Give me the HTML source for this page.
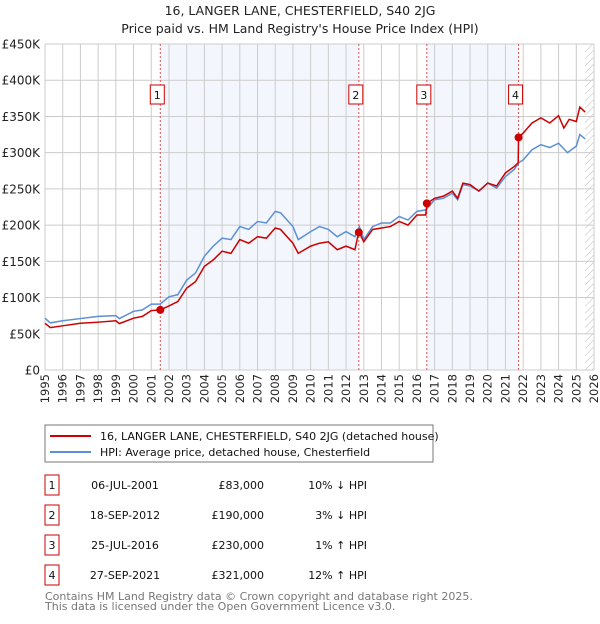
<!DOCTYPE html>
<html><head><meta charset="utf-8"><style>
body{margin:0;background:#fff;font-family:"DejaVu Sans","Liberation Sans",sans-serif;}
svg text{font-family:"DejaVu Sans","Liberation Sans",sans-serif;}
</style></head><body>
<svg id="c" width="600" height="620" xmlns="http://www.w3.org/2000/svg">
<defs><pattern id="hatch" width="5" height="5" patternUnits="userSpaceOnUse" patternTransform="rotate(45)"><line x1="0" y1="0" x2="0" y2="5" stroke="#bbb" stroke-width="1"/></pattern></defs>
<text x="300" y="15" text-anchor="middle" font-size="12.5" fill="#222">16, LANGER LANE, CHESTERFIELD, S40 2JG</text>
<text x="300" y="33" text-anchor="middle" font-size="12.5" fill="#222">Price paid vs. HM Land Registry's House Price Index (HPI)</text>
<g id="plot"></g>
<rect x="45" y="425" width="388" height="37" fill="#fff" stroke="#777"/>
<line x1="50" y1="436" x2="91" y2="436" stroke="#cc0000" stroke-width="2"/>
<text x="100" y="440" font-size="11" fill="#111">16, LANGER LANE, CHESTERFIELD, S40 2JG (detached house)</text>
<line x1="50" y1="452" x2="91" y2="452" stroke="#5b8fd6" stroke-width="2"/>
<text x="100" y="456" font-size="11" fill="#111">HPI: Average price, detached house, Chesterfield</text>
<g id="table" font-size="11" fill="#111"></g>
<text x="45" y="600" font-size="11" fill="#777">Contains HM Land Registry data © Crown copyright and database right 2025.</text>
<text x="45" y="610" font-size="11" fill="#777">This data is licensed under the Open Government Licence v3.0.</text>
</svg>
<script>
const hpiYears=[1995,1995.3,1996,1997,1998,1999,1999.2,2000,2000.5,2001,2001.5,2002,2002.5,2003,2003.5,2004,2004.5,2005,2005.5,2006,2006.5,2007,2007.5,2008,2008.3,2009,2009.3,2010,2010.5,2011,2011.5,2012,2012.5,2012.75,2013,2013.5,2014,2014.5,2015,2015.5,2016,2016.5,2017,2017.5,2018,2018.3,2018.6,2019,2019.5,2020,2020.5,2021,2021.5,2021.75,2022,2022.5,2023,2023.5,2024,2024.5,2025,2025.2,2025.5];
const hpiValues=[71.5,65,68,71,74,75,71,81,83,91,91,101,104,124,134,157,171,182,180,198,194,205,203,219,217,198,180,191,198,194,184,191,184,198,180,198,203,203,212,207,219,221,235,237,244,235,256,254,247,258,251,267,277,286,290,304,311,307,313,300,309,325,319];
const propYears=[1995,1995.3,1996,1997,1998,1999,1999.2,2000,2000.5,2001,2001.51,2002,2002.5,2003,2003.5,2004,2004.5,2005,2005.5,2006,2006.5,2007,2007.5,2008,2008.3,2009,2009.3,2010,2010.5,2011,2011.5,2012,2012.5,2012.72,2013,2013.5,2014,2014.5,2015,2015.5,2016,2016.5,2016.56,2017,2017.5,2018,2018.3,2018.6,2019,2019.5,2020,2020.5,2021,2021.5,2021.72,2021.74,2022,2022.5,2023,2023.5,2024,2024.3,2024.6,2025,2025.2,2025.5];
const propValues=[64.5,58.5,61,64.5,66,68,64,71.5,74,82,83,88.5,94.5,113,122,143,152,164,161,180,175,184,182,196,194,175,161,171,175,177,166,171,166,191,177,194,196,198,205,200,214,214,230,237,240,247,237,258,256,247,258,254,272,281,286,321,327,341,348,341,351,334,346,343,363,356];
const saleYears=[2001.51,2012.72,2016.56,2021.74];
const saleValues=[83,190,230,321];
const saleLabels=["1","2","3","4"];
const saleDates=["06-JUL-2001","18-SEP-2012","25-JUL-2016","27-SEP-2021"];
const salePrices=["£83,000","£190,000","£230,000","£321,000"];
const saleDiffs=["10% ↓ HPI","3% ↓ HPI","1% ↑ HPI","12% ↑ HPI"];
const yTicks=[0,50,100,150,200,250,300,350,400,450];
const yTickLabels=["£0","£50K","£100K","£150K","£200K","£250K","£300K","£350K","£400K","£450K"];
const X0=45,X1=594,Y0=370,Y1=44;
const xs=y=>X0+(y-1995)/31*(X1-X0);
const ys=v=>Y0-v/450*(Y0-Y1);
const NS="http://www.w3.org/2000/svg";
const g=document.getElementById('plot');
function mk(t,a,p){const e=document.createElementNS(NS,t);for(const k in a)e.setAttribute(k,a[k]);(p||g).appendChild(e);return e;}
let e;
e=mk('rect',{x:xs(saleYears[0]),y:Y1,width:xs(saleYears[1])-xs(saleYears[0]),height:Y0-Y1,fill:'#eef3fc',opacity:0.7});


e=mk('rect',{x:xs(saleYears[2]),y:Y1,width:xs(saleYears[3])-xs(saleYears[2]),height:Y0-Y1,fill:'#eef3fc',opacity:0.7});


e=mk('rect',{x:xs(2025.5),y:Y1,width:X1-xs(2025.5),height:Y0-Y1,fill:'url(#hatch)'});


for(let yr=1995;yr<=2026;yr++){
 e=mk('line',{x1:xs(yr),x2:xs(yr),y1:Y1,y2:Y0,stroke:'#ccc','stroke-width':1});
 
 
 const t=mk('text',{x:0,y:0,'font-size':11.5,fill:'#222','text-anchor':'end',transform:`translate(${xs(yr)+4},${Y0+4}) rotate(-90)`});
 t.textContent=yr;
 
 
}
yTicks.forEach((v,i)=>{
 e=mk('line',{x1:X0,x2:X1,y1:ys(v),y2:ys(v),stroke:'#ccc','stroke-width':1});
 
 
 const t=mk('text',{x:40,y:ys(v)+4.5,'font-size':12,fill:'#222','text-anchor':'end'});
 t.textContent=yTickLabels[i];
 
 
});
saleYears.forEach((y,i)=>{
 e=mk('line',{x1:xs(y),x2:xs(y),y1:Y1,y2:Y0,stroke:'#e05050','stroke-width':1,'stroke-dasharray':'2,2'});
 
 
 e=mk('rect',{x:xs(y)-10,y:85,width:14,height:19,fill:'#fff',stroke:'#cc0000'});
 
 
 const t=mk('text',{x:xs(y)-3,y:99,'font-size':11,fill:'#111','text-anchor':'middle'});
 t.textContent=saleLabels[i];
 
 
});
e=mk('polyline',{points:hpiYears.map((y,i)=>xs(y)+','+ys(hpiValues[i])).join(' '),fill:'none',stroke:'#5b8fd6','stroke-width':1.5});


e=mk('polyline',{points:propYears.map((y,i)=>xs(y)+','+ys(propValues[i])).join(' '),fill:'none',stroke:'#cc0000','stroke-width':1.5});


saleYears.forEach((y,i)=>{
 e=mk('circle',{cx:xs(y),cy:ys(saleValues[i]),r:4,fill:'#cc0000'});
 
 
});
const tb=document.getElementById('table');
saleLabels.forEach((l,i)=>{
 const yy=483+i*30;
 e=mk('rect',{x:45,y:yy-8,width:14,height:20,fill:'#fff',stroke:'#cc0000'},tb);
 
 
 const cells=[[52,l,'middle'],[125,saleDates[i],'middle'],[264,salePrices[i],'end'],[367,saleDiffs[i],'end']];
 cells.forEach(c=>{const t=mk('text',{x:c[0],y:yy+6,'text-anchor':c[2]},tb);t.textContent=c[1];
  
  });
});
</script>
</body></html>
